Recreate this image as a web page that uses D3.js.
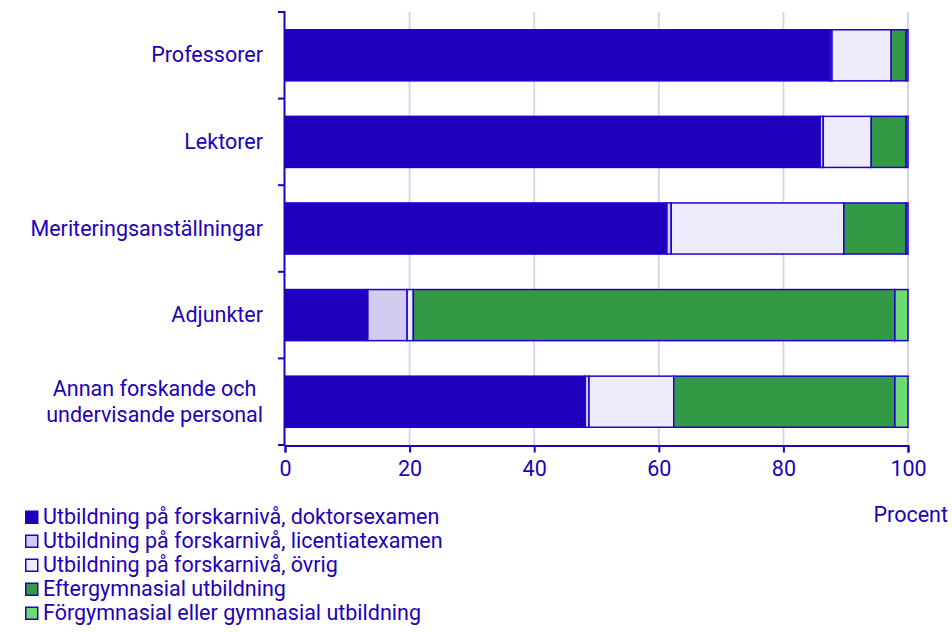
<!DOCTYPE html>
<html>
<head>
<meta charset="utf-8">
<script src="https://cdn.jsdelivr.net/npm/d3@7"></script>
<style>
  body { margin: 0; background: #fff; }
  svg { display: block; font-family: Roboto, 'Noto Sans', sans-serif; }
</style>
</head>
<body>
<div id="chart"></div>
<script>
const categories = [
  'Professorer',
  'Lektorer',
  'Meriteringsanställningar',
  'Adjunkter',
  'Annan forskande och\nundervisande personal',
];

const seriesNames = [
  'Utbildning på forskarnivå, doktorsexamen',
  'Utbildning på forskarnivå, licentiatexamen',
  'Utbildning på forskarnivå, övrig',
  'Eftergymnasial utbildning',
  'Förgymnasial eller gymnasial utbildning',
];

// percent per category, one array per series
const doktor = [87.5, 85.9, 61.3, 13.3, 48.2];
const licentiat = [0.3, 0.5, 0.7, 6.3, 0.6];
const ovrig = [9.5, 7.7, 27.7, 1.0, 13.6];
const efter = [2.4, 5.6, 10.0, 77.3, 35.5];
const forgymn = [0.3, 0.3, 0.3, 2.1, 2.1];

const xTicks = [0, 20, 40, 60, 80, 100];
const colors = ['#1f00bd', '#d1cbf0', '#ececfc', '#339944', '#6ddc6d'];

const ink = '#2200bb';
const fontSize = 21.5;
const width = 952;
const height = 632;

const svg = d3
  .select('#chart')
  .append('svg')
  .attr('width', width)
  .attr('height', height);

const x = d3.scaleLinear().domain([0, 100]).range([285, 908]);
const y = d3
  .scaleBand()
  .domain(categories)
  .range([12, 445])
  .paddingInner(0.41)
  .paddingOuter(0.205);

const rows = categories.map((c, i) => {
  const r = { cat: c };
  [doktor, licentiat, ovrig, efter, forgymn].forEach((arr, k) => {
    r['s' + k] = arr[i];
  });
  return r;
});

const keys = seriesNames.map((d, k) => 's' + k);
const stacked = d3.stack().keys(keys)(rows);

// vertical grid lines
svg
  .append('g')
  .selectAll('line')
  .data(xTicks.filter((d) => d > 0))
  .enter()
  .append('line')
  .attr('x1', (d) => x(d))
  .attr('x2', (d) => x(d))
  .attr('y1', 12)
  .attr('y2', 445)
  .attr('stroke', '#d6d6f2')
  .attr('stroke-width', 2);

// bars
svg
  .append('g')
  .selectAll('g')
  .data(stacked)
  .enter()
  .append('g')
  .attr('fill', (d, k) => colors[k])
  .selectAll('rect')
  .data((d) => d)
  .enter()
  .append('rect')
  .attr('x', (d) => x(d[0]))
  .attr('width', (d) => x(d[1]) - x(d[0]))
  .attr('y', (d) => y(d.data.cat))
  .attr('height', y.bandwidth())
  .attr('stroke', '#2200cc')
  .attr('stroke-width', 1.5);

// x axis
const xAxis = svg
  .append('g')
  .attr('transform', 'translate(0, 445.5)')
  .call(d3.axisBottom(x).tickValues(xTicks).tickSize(7).tickPadding(8));
xAxis.select('.domain').attr('stroke', ink).attr('stroke-width', 2);
xAxis.selectAll('.tick line').attr('stroke', ink).attr('stroke-width', 2);
xAxis
  .selectAll('.tick text')
  .attr('fill', ink)
  .attr('font-size', fontSize)
  .attr('font-family', 'Roboto');

// y axis: line plus ticks on the band boundaries
const yAxis = svg.append('g');
yAxis
  .append('line')
  .attr('x1', 284.5)
  .attr('x2', 284.5)
  .attr('y1', 11)
  .attr('y2', 446)
  .attr('stroke', ink)
  .attr('stroke-width', 2);

const bounds = categories.map((c) => y(c) - (y.step() - y.bandwidth()) / 2);
bounds.push(445);
yAxis
  .selectAll('.yt')
  .data(bounds)
  .enter()
  .append('line')
  .attr('x1', 278)
  .attr('x2', 285)
  .attr('y1', (d) => d)
  .attr('y2', (d) => d)
  .attr('stroke', ink)
  .attr('stroke-width', 2);

// category labels
categories.forEach((c) => {
  const lines = c.split('\n');
  const cy = y(c) + y.bandwidth() / 2;
  const t = svg
    .append('text')
    .attr('fill', ink)
    .attr('font-size', fontSize)
    .attr('text-anchor', lines.length > 1 ? 'middle' : 'end');
  lines.forEach((l, j) => {
    t.append('tspan')
      .attr('x', 263)
      .attr('y', cy + 7 + (j - (lines.length - 1) / 2) * 26)
      .text(l);
  });
  if (lines.length > 1) {
    const w = t.node().getBBox().width;
    t.selectAll('tspan').attr('x', 263 - w / 2);
  }
});

// axis unit
svg
  .append('text')
  .attr('x', 948)
  .attr('y', 522)
  .attr('text-anchor', 'end')
  .attr('fill', ink)
  .attr('font-size', fontSize)
  .text('Procent');

// legend
const legend = svg
  .append('g')
  .selectAll('g')
  .data(seriesNames)
  .enter()
  .append('g')
  .attr('transform', (d, i) => `translate(25, ${524 + i * 24})`);

legend
  .append('rect')
  .attr('x', 0.75)
  .attr('y', -12.75)
  .attr('width', 12)
  .attr('height', 12)
  .attr('fill', (d, i) => colors[i])
  .attr('stroke', '#2200cc')
  .attr('stroke-width', 1.5);

legend
  .append('text')
  .attr('x', 18)
  .attr('y', 0)
  .attr('fill', ink)
  .attr('font-size', fontSize)
  .text((d) => d);
</script>
</body>
</html>
